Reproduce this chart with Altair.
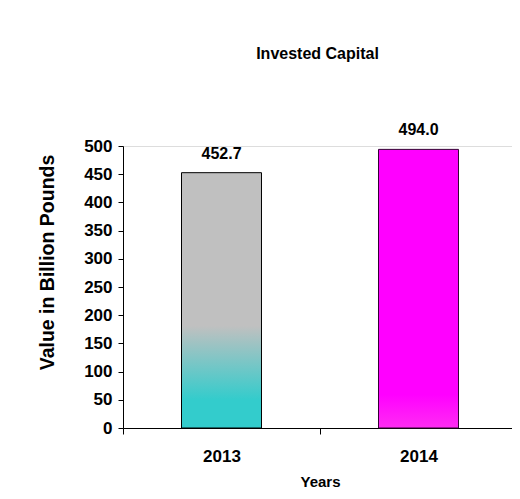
import altair as alt
import pandas as pd

years = ["2013", "2014"]
values = [452.7, 494.0]
labels = ["452.7", "494.0"]
y_ticks = [0, 50, 100, 150, 200, 250, 300, 350, 400, 450, 500]

df = pd.DataFrame({"year": years, "value": values, "label": labels})

FONT = "Liberation Sans, Arial, sans-serif"

x_enc = alt.X(
    "year:N",
    scale=alt.Scale(paddingInner=0, paddingOuter=0, range=[0, 394]),
    axis=alt.Axis(
        title="Years", titleFont=FONT, titleFontSize=15, titleFontWeight="bold",
        titleColor="#000", titlePadding=10,
        labelFont=FONT, labelFontSize=17, labelFontWeight="bold", labelColor="#000",
        labelAngle=0, labelPadding=14, tickBand="extent", tickSize=6,
        domainColor="#000", tickColor="#000", domainWidth=1,
    ),
)
y_enc = alt.Y(
    "value:Q",
    scale=alt.Scale(domain=[0, 500], nice=False),
    axis=alt.Axis(
        values=y_ticks, title="Value in Billion Pounds", titleFont=FONT,
        titleFontSize=19.5, titleFontWeight="bold", titleColor="#000",
        titleY=116, titleX=-76, titleBaseline="middle", titleAngle=270,
        labelFont=FONT, labelFontSize=17, labelFontWeight="bold", labelColor="#000",
        labelPadding=6, tickSize=5, grid=False,
        domainColor="#000", tickColor="#000",
    ),
)

base = alt.Chart(df)

bar2013 = base.transform_filter(alt.datum.year == "2013").mark_bar(
    width=alt.RelativeBandSize(0.406),
    stroke="#000", strokeWidth=1,
    color=alt.Gradient(
        gradient="linear", x1=0, x2=0, y1=0, y2=1,
        stops=[
            alt.GradientStop(offset=0, color="#c0c0c0"),
            alt.GradientStop(offset=0.6, color="#c0c0c0"),
            alt.GradientStop(offset=0.89, color="#33cccc"),
            alt.GradientStop(offset=1, color="#33cccc"),
        ],
    ),
).encode(x=x_enc, y=y_enc)

bar2014 = base.transform_filter(alt.datum.year == "2014").mark_bar(
    width=alt.RelativeBandSize(0.406),
    stroke="#330033", strokeWidth=1,
    color=alt.Gradient(
        gradient="linear", x1=0, x2=0, y1=0, y2=1,
        stops=[
            alt.GradientStop(offset=0, color="#ff00ff"),
            alt.GradientStop(offset=0.88, color="#ff00ff"),
            alt.GradientStop(offset=1, color="#ff2cf2"),
        ],
    ),
).encode(x=x_enc, y=y_enc)

text = base.mark_text(
    font=FONT, fontSize=16, fontWeight="bold", color="#000", dy=-19, baseline="middle"
).encode(x=x_enc, y=y_enc, text="label:N")

chart = alt.layer(bar2013, bar2014, text).properties(
    width=389, height=282,
    title=alt.TitleParams(
        "Invested Capital", font=FONT, fontSize=16, fontWeight="bold",
        color="#000", anchor="middle", frame="group", offset=60,
    ),
    autosize=alt.AutoSizeParams(type="none"),
    padding={"left": 115, "top": 138, "right": 0, "bottom": 62},
).configure_view(stroke=None).configure(background="white")

chart.save("out.html", embed_options={"renderer": "svg", "actions": False})
